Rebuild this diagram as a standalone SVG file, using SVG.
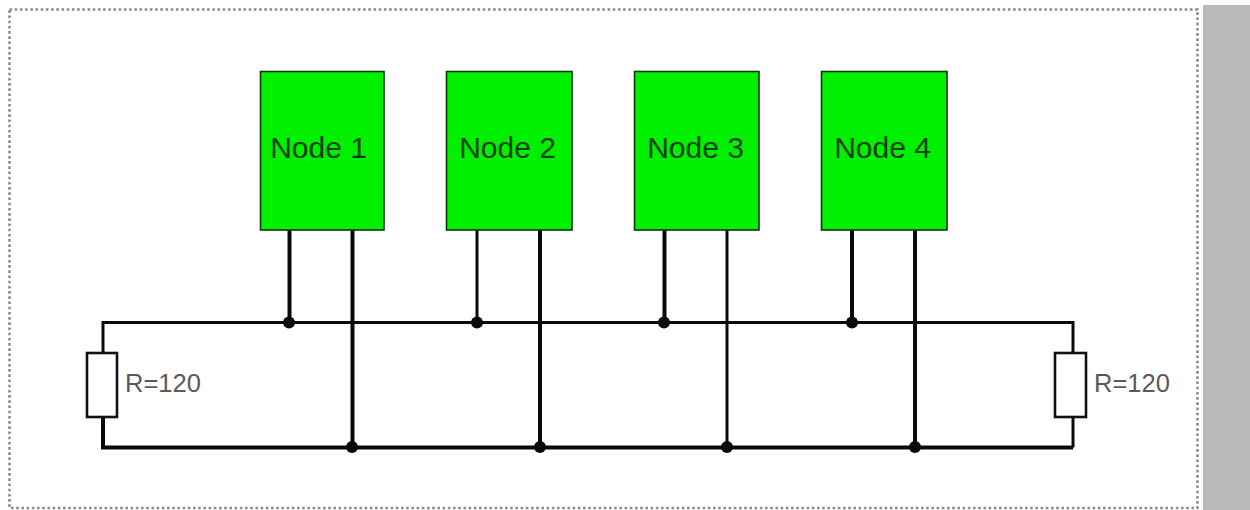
<svg xmlns="http://www.w3.org/2000/svg" width="1250" height="510" viewBox="0 0 1250 510">
<style>
.box{fill:#00f000;stroke:#0a3a0a;stroke-width:1.6}
.nl{font-family:"Liberation Sans",Arial,sans-serif;font-size:30px;fill:#064006;text-anchor:middle}
.rl{font-family:"Liberation Sans",Arial,sans-serif;font-size:25.500px;fill:#5a5a5a}
.res{fill:#fff;stroke:#111;stroke-width:2.6}
.w{fill:none;stroke:#0a0a0a;stroke-width:3}
.t{fill:none;stroke:#0a0a0a;stroke-width:4}
.d{fill:#0a0a0a}
.frame{fill:none;stroke:#8c8c8c;stroke-width:2.6;stroke-dasharray:2.6 2.6}
</style>
<rect width="1250" height="510" fill="#fff"/>
<rect x="1203" y="5" width="47" height="505" fill="#bababa"/>
<rect class="frame" x="9.500" y="9.500" width="1188" height="498.500"/>
<g id="connectors">
<path class="w" d="M103 353V322.500H1073V353"/>
<path class="t" d="M103 417V447.500H1073"/>
<path class="w" d="M1073 417V447.500"/>
<path class="t" d="M289.500 230V322M352.500 230V447M664.500 230V322M540 230V447M852 230V322M915 230V447"/>
<path class="w" d="M477 230V322M727 230V447"/>
<circle class="d" cx="289" cy="322.500" r="6"/>
<circle class="d" cx="477" cy="322.500" r="6"/>
<circle class="d" cx="664" cy="322.500" r="6"/>
<circle class="d" cx="852" cy="322.500" r="6"/>
<circle class="d" cx="352" cy="447" r="6"/>
<circle class="d" cx="540" cy="447" r="6"/>
<circle class="d" cx="727" cy="447" r="6"/>
<circle class="d" cx="915" cy="447" r="6"/>
</g>
<g id="node1"><rect class="box" x="260.500" y="71.500" width="123.500" height="158.500"/><text class="nl" x="318.500" y="158">Node 1</text></g>
<g id="node2"><rect class="box" x="446.500" y="71.500" width="125.500" height="158.500"/><text class="nl" x="507.500" y="158">Node 2</text></g>
<g id="node3"><rect class="box" x="634.500" y="71.500" width="124.500" height="158.500"/><text class="nl" x="695.500" y="158">Node 3</text></g>
<g id="node4"><rect class="box" x="821.500" y="71.500" width="125.500" height="158.500"/><text class="nl" x="882.500" y="158">Node 4</text></g>
<g id="r-left"><rect class="res" x="87" y="353" width="30" height="64"/><text class="rl" x="125" y="392">R=120</text></g>
<g id="r-right"><rect class="res" x="1055" y="353" width="31" height="64"/><text class="rl" x="1094" y="392">R=120</text></g>
</svg>
